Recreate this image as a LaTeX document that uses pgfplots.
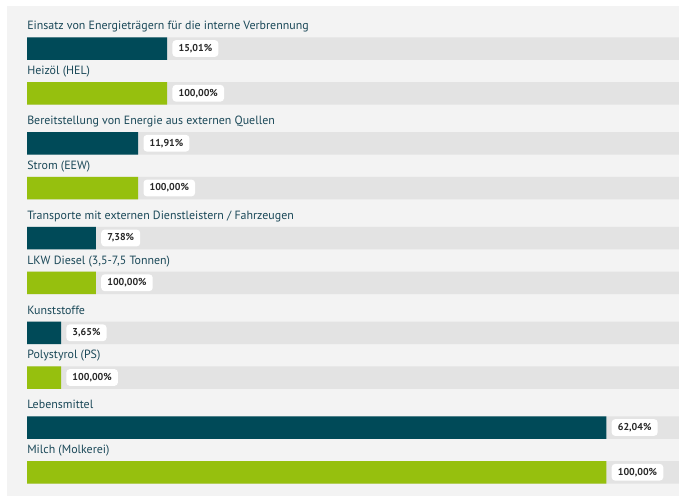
\documentclass[border=0pt]{standalone}
\usepackage{fontspec}
\setmainfont{PT Sans}
\usepackage{pgfplots}
\pgfplotsset{compat=1.18}

\definecolor{darkbar}{RGB}{0,74,88}
\definecolor{greenbar}{RGB}{150,192,14}
\definecolor{panel}{RGB}{243,243,243}
\definecolor{track}{RGB}{227,227,227}
\definecolor{labeltext}{RGB}{26,72,88}
\definecolor{valtext}{RGB}{40,40,40}

\begin{document}
\begin{tikzpicture}[x=0.75pt,y=0.75pt]
  \begin{axis}[
      width=509.25pt, height=372pt,
      scale only axis,
      xmin=-2.891, xmax=69.807,
      ymin=0, ymax=496,
      y dir=reverse,
      axis lines=none,
      ticks=none,
      enlargelimits=false,
      clip=false,
    ]
    % page and panel background
    \fill[white] (rel axis cs:0,0) rectangle (rel axis cs:1,1);
    \fill[panel] (axis cs:-2.141,6) rectangle (axis cs:69.807,496);

    % grey tracks
    \addplot[xbar, bar shift=0pt, bar width=22.5, fill=track, draw=none] coordinates {
      (69.807,48.5) (69.807,93.25) (69.807,143.25) (69.807,188) (69.807,238)
      (69.807,282.75) (69.807,332.75) (69.807,377.5) (69.807,427.5) (69.807,472.25)
    };

    % parent categories
    \addplot[xbar, bar shift=0pt, bar width=22.5, fill=darkbar, draw=none,
      point meta=explicit symbolic, nodes near coords,
      every node near coord/.append style={fill=white, text=valtext, rounded corners=2.5pt,
        font=\fontsize{7.5}{8}\selectfont\bfseries, anchor=west, xshift=3.75pt,
        inner xsep=4.6pt, inner ysep=0pt, minimum height=12.5pt}]
      coordinates {
      (15.01,48.5) [15,01\%]
      (11.91,143.25) [11,91\%]
      (7.38,238) [7,38\%]
      (3.65,332.75) [3,65\%]
      (62.04,427.5) [62,04\%]
    };

    % sub categories (100 % of parent)
    \addplot[xbar, bar shift=0pt, bar width=22.5, fill=greenbar, draw=none,
      point meta=explicit symbolic, nodes near coords,
      every node near coord/.append style={fill=white, text=valtext, rounded corners=2.5pt,
        font=\fontsize{7.5}{8}\selectfont\bfseries, anchor=west, xshift=3.75pt,
        inner xsep=4.6pt, inner ysep=0pt, minimum height=12.5pt}]
      coordinates {
      (15.01,93.25) [100,00\%]
      (11.91,188) [100,00\%]
      (7.38,282.75) [100,00\%]
      (3.65,377.5) [100,00\%]
      (62.04,472.25) [100,00\%]
    };

    \tikzset{lab/.style={anchor=base west, inner sep=0pt, text=labeltext,
      font=\fontsize{8.95}{10}\selectfont}}
    \node[lab] at (axis cs:0,29.75) {Einsatz von Energieträgern für die interne Verbrennung};
    \node[lab] at (axis cs:0,74.5) {Heizöl (HEL)};
    \node[lab] at (axis cs:0,124.5) {Bereitstellung von Energie aus externen Quellen};
    \node[lab] at (axis cs:0,169.25) {Strom (EEW)};
    \node[lab] at (axis cs:0,219.25) {Transporte mit externen Dienstleistern / Fahrzeugen};
    \node[lab] at (axis cs:0,264) {LKW Diesel (3,5-7,5 Tonnen)};
    \node[lab] at (axis cs:0,314) {Kunststoffe};
    \node[lab] at (axis cs:0,358.75) {Polystyrol (PS)};
    \node[lab] at (axis cs:0,408.75) {Lebensmittel};
    \node[lab] at (axis cs:0,453.5) {Milch (Molkerei)};
  \end{axis}
\end{tikzpicture}
\end{document}
